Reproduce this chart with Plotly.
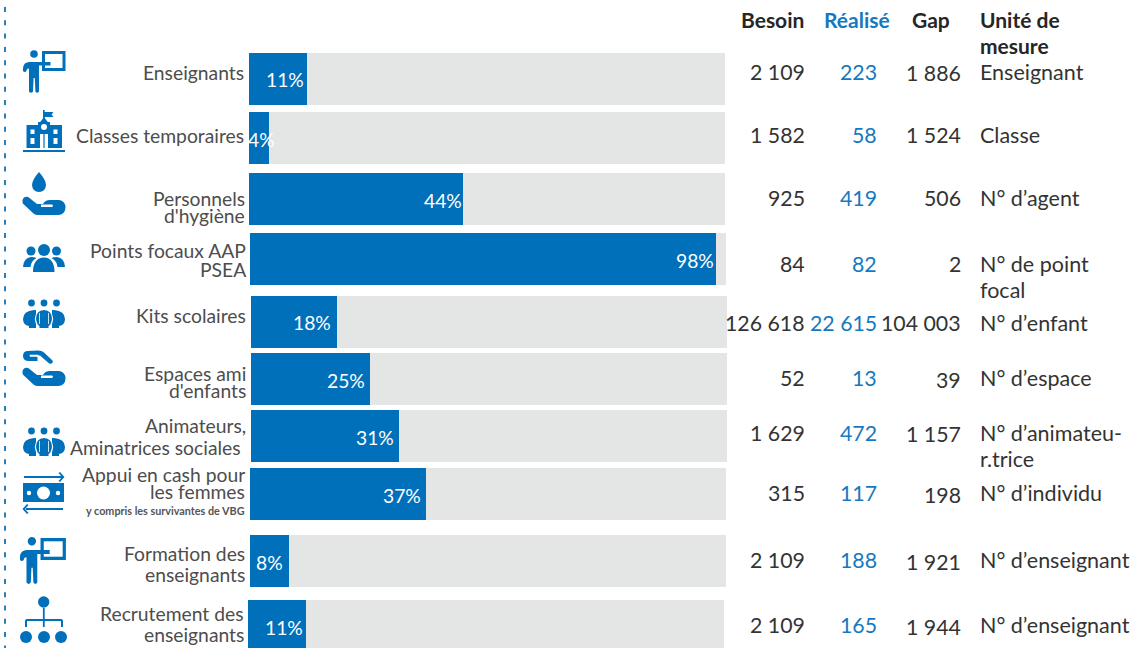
import plotly.graph_objects as go

# ---------- data ----------
categories = ["Enseignants", "Classes temporaires", "Personnels d'hygiène", "Points focaux AAP PSEA",
              "Kits scolaires", "Espaces ami d'enfants", "Animateurs, Aminatrices sociales",
              "Appui en cash pour les femmes", "Formation des enseignants", "Recrutement des enseignants"]
bar_percent = [12.2, 4.2, 45, 97.9, 18.1, 25, 31.1, 37, 8.2, 12.2]
percent_labels = ["11%", "4%", "44%", "98%", "18%", "25%", "31%", "37%", "8%", "11%"]
besoin = [2109, 1582, 925, 84, 126618, 52, 1629, 315, 2109, 2109]
realise = [223, 58, 419, 82, 22615, 13, 472, 117, 188, 165]
gap = [1886, 1524, 506, 2, 104003, 39, 1157, 198, 1921, 1944]
unites = [["Enseignant"], ["Classe"], ["N° d’agent"], ["N° de point", "focal"], ["N° d’enfant"],
          ["N° d’espace"], ["N° d’animateu-", "r.trice"], ["N° d’individu"], ["N° d’enseignant"], ["N° d’enseignant"]]
label_lines = [["Enseignants"], ["Classes temporaires"], ["Personnels", "d'hygiène"], ["Points focaux AAP", "PSEA"],
               ["Kits scolaires"], ["Espaces ami", "d'enfants"], ["Animateurs,", "Aminatrices sociales"],
               ["Appui en cash pour", "les femmes"], ["Formation des", "enseignants"], ["Recrutement des", "enseignants"]]
sub_note = "y compris les survivantes de VBG"
headers = ["Besoin", "Réalisé", "Gap", "Unité de", "mesure"]

# ---------- layout constants (pixels) ----------
W, H = 1133, 648
BAR_X0, BAR_PX = 249, 476
ROW_TOP = [53, 112, 173, 233, 296, 353, 410, 468, 535, 600]
ROW_SHIFT = [0, 0, 0, 1, 2, 2, 2, 1, 1, -1]
BAR_H = 52
LABEL_RIGHT = [[244], [244], [245, 245], [246, 246], [246], [246, 246], [246, 241], [245, 245], [245, 245], [244, 244]]
LABEL_Y = [[73], [136], [199, 216], [251, 270], [316], [374, 391], [426, 448], [475, 492], [554, 575], [614, 635]]
PCT_RIGHT = [304, 275, 462, 714, 331, 365, 394, 421, 283, 303]
PCT_Y = [80, 140, 201, 261, 323, 381, 438, 496, 563, 628]
VAL_Y = [73, 136, 199, 265, 324, 379, 434, 494, 561, 626]
GAP_Y = [74, 136, 199, 265, 324, 381, 435, 496, 563, 628]
UNIT_Y = [[72.5], [135.5], [199], [265, 291], [324], [379], [434, 460], [494], [561], [626]]
BESOIN_R, REAL_R, GAP_R, UNIT_L = 805, 877, 961, 980

BLUE = "#0070BB"
GREY_BAR = "#E4E6E5"
LABEL_C = "#4D4D4D"
VALUE_C = "#333333"
REAL_C = "#1579BF"
FONT = "Lato"
LABEL_FS = 19.3
VALUE_FS = 21.3
UNIT_FS = 21.5
HEAD_FS = 21
PAD_RIGHT = 1.5
PAD_LEFT = 2.5
ANN_PAD_Y = 1

def X(px):
    return (px - BAR_X0) * 100 / BAR_PX

def fmt(v):
    return f"{v:,}".replace(",", " ")

centers = [t + BAR_H / 2 for t in ROW_TOP]
shift = [s * 100 / BAR_PX for s in ROW_SHIFT]

fig = go.Figure()
fig.add_bar(orientation="h", y=centers, x=[100] * len(categories), base=shift, width=BAR_H,
            marker=dict(color=GREY_BAR, line_width=0), hoverinfo="skip", name="Besoin")
fig.add_bar(orientation="h", y=centers, x=bar_percent, base=shift, width=BAR_H, text=None,
            customdata=categories, hovertemplate="%{customdata}: %{x}%<extra></extra>",
            marker=dict(color=BLUE, line_width=0), name="Réalisé")

# ---------- text ----------
ann = []
def text(px, y, s, anchor="right", color=LABEL_C, size=LABEL_FS):
    dx = PAD_RIGHT if anchor == "right" else -PAD_LEFT
    ann.append(dict(x=X(px + dx), y=y - ANN_PAD_Y, xref="x", yref="y", text=s, showarrow=False, xanchor=anchor,
                    yanchor="middle", align=anchor, font=dict(family=FONT, size=size, color=color)))

for i in range(len(categories)):
    for line, r, y in zip(label_lines[i], LABEL_RIGHT[i], LABEL_Y[i]):
        text(r, y, line)
    text(PCT_RIGHT[i], PCT_Y[i], percent_labels[i], color="white")
    text(BESOIN_R, VAL_Y[i], fmt(besoin[i]), color=VALUE_C, size=VALUE_FS)
    text(REAL_R, VAL_Y[i], fmt(realise[i]), color=REAL_C, size=VALUE_FS)
    text(GAP_R, GAP_Y[i], fmt(gap[i]), color=VALUE_C, size=VALUE_FS)
    for line, y in zip(unites[i], UNIT_Y[i]):
        text(UNIT_L, y, line, anchor="left", color=VALUE_C, size=UNIT_FS)
text(245, 511, f"<b>{sub_note}</b>", size=10.8, color="#555555")
text(804, 20, f"<b>{headers[0]}</b>", color="#262626", size=HEAD_FS)
text(890, 20, f"<b>{headers[1]}</b>", color=REAL_C, size=HEAD_FS)
text(950, 20, f"<b>{headers[2]}</b>", color="#262626", size=HEAD_FS)
text(UNIT_L, 20, f"<b>{headers[3]}</b>", anchor="left", color="#262626", size=HEAD_FS)
text(UNIT_L, 46, f"<b>{headers[4]}</b>", anchor="left", color="#262626", size=HEAD_FS)

# ---------- icons (decoration, pixel geometry) ----------
shp = []
def path(pts, fill=BLUE, tf=lambda x, y: (x, y)):
    """pts: list of ('M'|'L'|'Q', coords...)"""
    out = []
    for c in pts:
        if c[0] == "Z":
            out.append("Z")
            continue
        nums = []
        for k in range(1, len(c), 2):
            x, y = tf(c[k], c[k + 1])
            nums.append(f"{X(x):.4f},{y:.3f}")
        out.append(c[0] + " ".join(nums))
    shp.append(dict(type="path", path=" ".join(out), xref="x", yref="y", fillcolor=fill, line_width=0))

def circ(cx, cy, rx, ry=None, fill=BLUE, line=None, lw=0):
    ry = rx if ry is None else ry
    shp.append(dict(type="circle", xref="x", yref="y", x0=X(cx - rx), x1=X(cx + rx), y0=cy - ry, y1=cy + ry,
                    fillcolor=fill, line=dict(color=line or fill, width=lw)))

def rect(x0, y0, x1, y1, fill=BLUE):
    shp.append(dict(type="rect", xref="x", yref="y", x0=X(x0), x1=X(x1), y0=y0, y1=y1, fillcolor=fill, line_width=0))

def teacher(tf, k=1.0):
    def R(x0, y0, x1, y1, fill):
        a, b = tf(x0, y0); c, d = tf(x1, y1)
        rect(a, b, c, d, fill)
    R(42, 51, 65.5, 71, BLUE)
    R(45, 54, 62.5, 68, "white")
    cx, cy = tf(34, 54)
    circ(cx, cy, 3.8 * k)
    path([("M", 23, 71), ("L", 23, 68), ("Q", 23.5, 62, 29.5, 62), ("L", 50.5, 62), ("L", 50.5, 65.5), ("L", 39, 65.5),
          ("L", 39, 91.5), ("Q", 37.2, 94, 35.4, 91.5), ("L", 34.8, 78), ("L", 33.6, 78), ("L", 33, 91.5),
          ("Q", 31, 94, 29, 91.5), ("L", 29, 68.5), ("Q", 26.5, 68.5, 26.5, 71), ("Q", 24.7, 73, 23, 71), ("Z",)], tf=tf)

def hand(dy, dx=0):
    tf = lambda x, y: (x + dx, y + dy)
    path([("M", 22.8, 203.5), ("Q", 21.5, 198.5, 25, 197), ("Q", 27.5, 196, 29.5, 198), ("L", 37, 204), ("L", 43, 204),
          ("Q", 45, 200, 50, 200), ("L", 59, 200), ("Q", 65.5, 201, 65.5, 207.5), ("Q", 65, 215, 58, 215),
          ("L", 38, 215), ("Q", 35.5, 215, 33.5, 213.5), ("Z",)], tf=tf)
    path([("M", 41, 204.6), ("L", 52, 204.6), ("Q", 54, 205.8, 52, 207), ("L", 41, 207), ("Z",)], fill="white", tf=tf)

# 1 teacher
teacher(lambda x, y: (x, y))
# 2 school
rect(23, 150, 65, 152)
rect(26.5, 125, 62, 148)
path([("M", 38, 125), ("L", 44, 117), ("L", 50, 125), ("Z",)])
rect(38, 122, 50, 130)
rect(43, 110, 44.7, 120)
path([("M", 44, 112), ("L", 53.5, 112), ("L", 51.5, 114.5), ("L", 53.5, 117), ("L", 44, 117), ("Z",)])
circ(44, 127, 3, fill="white")
for wx in (30.5, 53.5):
    rect(wx, 129.5, wx + 4, 134, "white")
    rect(wx, 138, wx + 4, 144, "white")
rect(40, 134, 43.4, 148, "white")
rect(44.6, 134, 48, 148, "white")
# 3 drop + hand
path([("M", 39, 172), ("Q", 32, 180, 32, 185), ("Q", 32.5, 192, 39, 192), ("Q", 45.5, 192, 46, 185), ("Q", 46, 180, 39, 172), ("Z",)])
hand(0)
# 4 people
circ(31, 251, 4.5)
circ(44, 250, 6)
circ(56.5, 251, 4.5)
path([("M", 23, 267), ("Q", 23.5, 258, 31, 257), ("Q", 34.5, 257, 36.5, 258), ("Q", 31, 261, 30.5, 267), ("Z",)])
path([("M", 65, 267), ("Q", 64.5, 258, 57, 257), ("Q", 53.5, 257, 51.5, 258), ("Q", 57, 261, 57.5, 267), ("Z",)])
path([("M", 33, 272), ("Q", 33, 258, 44, 257.5), ("Q", 54.5, 258, 54.5, 272), ("Z",)])

# 5 / 7 three persons
def crowd(dy):
    for hx in (31.5, 44, 56.5):
        circ(hx, 303 + dy, 3.4)
    tf = lambda x, y: (x, y + dy)
    path([("M", 34, 310), ("Q", 23, 311, 23, 319), ("Q", 23, 325, 29, 326), ("L", 29, 328), ("L", 36, 328), ("L", 36, 310), ("Z",)], tf=tf)
    path([("M", 54, 310), ("Q", 65, 311, 65, 319), ("Q", 65, 325, 59, 326), ("L", 59, 328), ("L", 52, 328), ("L", 52, 310), ("Z",)], tf=tf)
    circ(44, 319 + dy, 9.2, 9.5, fill="white")
    path([("M", 44, 310), ("Q", 36, 310.5, 36, 319), ("Q", 37, 325, 39.5, 326), ("L", 39.5, 328), ("L", 48.5, 328), ("L", 48.5, 326),
          ("Q", 51, 325, 52, 319), ("Q", 52, 310.5, 44, 310), ("Z",)], tf=tf)
    for a, b in ((39, 39.8), (48.2, 49)):
        rect(a, 313 + dy, b, 324 + dy, "white")

crowd(0)
crowd(128)

# 6 hands
path([("M", 23, 356), ("Q", 23, 351, 28, 351), ("L", 38, 350.5), ("Q", 42, 350.5, 44, 352.5), ("L", 52.5, 360.5),
      ("Q", 53.5, 363, 51, 363.8), ("Q", 49.5, 364, 48, 362.5), ("L", 40, 355.5), ("L", 37.5, 355.5), ("L", 37.5, 361),
      ("L", 29, 361), ("Q", 23, 361, 23, 356), ("Z",)])
path([("M", 30, 354.8), ("L", 38, 354.8), ("L", 39, 356.8), ("L", 30, 356.8), ("Q", 29, 355.8, 30, 354.8), ("Z",)], fill="white")
hand(171)

# 8 cash
rect(24, 476, 62, 478)
path([("M", 58.5, 473), ("L", 60, 472), ("L", 64.5, 477), ("L", 60, 482), ("L", 58.5, 481), ("L", 62, 477), ("Z",)])
rect(23, 483, 64, 502)
circ(43.5, 493, 6.5, fill="white")
circ(29, 493, 2.2, fill="white")
circ(58, 493, 2.2, fill="white")
rect(26, 508, 63, 510)
path([("M", 28.5, 505), ("L", 27, 504), ("L", 22.5, 509), ("L", 27, 514), ("L", 28.5, 513), ("L", 25, 509), ("Z",)])

# 9 teacher (larger)
teacher(lambda x, y: (20 + (x - 23) * 1.08, 538 + (y - 51) * 1.1), k=1.1)

# 10 hierarchy
circ(43.7, 602, 5.7)
rect(42.9, 608, 44.7, 627)
path([("M", 25, 627), ("L", 25, 621), ("Q", 25, 619, 27, 619), ("L", 61, 619), ("Q", 63, 619, 63, 621), ("L", 63, 627),
      ("L", 61, 627), ("L", 61, 621), ("L", 27, 621), ("L", 27, 627), ("Z",)])
for cx in (26, 44, 61):
    circ(cx, 637, 6)

# dashed line
shp.append(dict(type="line", xref="x", yref="y", x0=X(5), x1=X(5), y0=7, y1=648,
                line=dict(color="#2A7FB8", width=2, dash="5px,8.3px")))

fig.update_layout(
    width=W, height=H, margin=dict(l=0, r=0, t=0, b=0), paper_bgcolor="white", plot_bgcolor="white",
    barmode="overlay", bargap=0, showlegend=False,
    xaxis=dict(range=[X(0), X(W)], visible=False, fixedrange=True),
    yaxis=dict(range=[H, 0], visible=False, fixedrange=True),
    annotations=ann, shapes=shp, font=dict(family=FONT),
)
fig.write_html("out.html", config=dict(displayModeBar=False),
               post_script="document.body.style.margin='0';document.documentElement.style.overflow='hidden';")
